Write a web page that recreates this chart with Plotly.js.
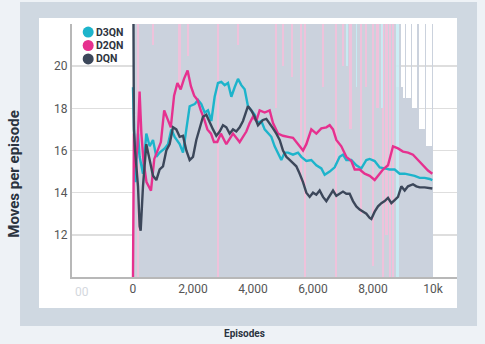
<!DOCTYPE html>
<html>
<head>
<meta charset="utf-8">
<script src="https://cdn.plot.ly/plotly-3.0.1.min.js"></script>
<style>
  html, body { margin: 0; padding: 0; background: #eef2f6; }
  #chart { width: 485px; height: 344px; }
</style>
</head>
<body>
<div id="chart"></div>
<script>
// smoothed moves per episode
const d3qnEp = [0,40,80,167,222,333,444,556,667,778,889,1056,1167,1278,1389,1556,1667,1778,1889,2056,2167,2278,2389,2500,2611,2722,2833,2944,3056,3167,3278,3389,3500,3611,3722,3833,3944,4056,4167,4278,4389,4500,4611,4722,4833,4944,5056,5167,5333,5500,5611,5778,5944,6111,6278,6389,6556,6722,6889,7000,7111,7278,7444,7611,7778,7889,8056,8222,8389,8556,8722,8889,9056,9222,9389,9556,9722,9889,9978]
const d3qnMoves = [19.0,16.0,14.5,16.8,15.7,14.9,16.8,16.2,16.5,15.7,15.9,16.1,16.3,17.0,16.65,16.3,15.9,17.0,18.1,18.2,18.4,18.2,17.8,17.9,17.4,18.55,19.2,19.25,19.1,19.2,18.55,19.0,19.4,19.1,18.9,18.1,17.9,17.7,17.3,17.4,17.0,16.8,16.65,16.2,15.9,15.55,15.9,15.9,15.8,15.9,15.7,15.5,15.55,15.3,15.15,14.85,15.0,15.2,15.7,15.8,15.55,15.55,15.3,15.15,15.55,15.6,15.5,15.2,15.15,15.1,15.1,14.9,14.9,14.85,14.8,14.7,14.7,14.65,14.6]

const d2qnEp = [0,30,80,150,220,280,350,450,600,710,930,1040,1150,1260,1370,1480,1590,1700,1820,1930,2040,2150,2260,2370,2480,2600,2700,2810,2930,3111,3333,3555,3778,3889,4000,4111,4222,4389,4556,4667,4833,5000,5167,5333,5556,5667,5778,5944,6111,6278,6444,6556,6667,6778,6944,7111,7278,7389,7556,7722,7889,8056,8222,8333,8500,8667,8833,9000,9167,9333,9500,9667,9833,9978]
const d2qnMoves = [10.0,16.8,15.2,16.2,18.8,16.8,15.5,14.5,14.1,15.6,16.4,17.9,17.5,17.1,18.6,19.2,18.9,19.4,19.8,19.05,18.6,18.4,17.9,17.5,17.0,16.8,16.4,16.4,16.8,16.3,16.8,16.4,16.9,17.3,17.6,17.4,17.9,17.8,17.9,17.3,16.8,16.7,16.65,16.6,16.2,16.0,16.3,17.0,16.8,17.05,17.1,17.2,17.0,16.5,16.2,15.7,15.5,15.1,15.1,14.9,14.8,14.6,14.9,15.1,15.3,16.2,16.1,15.95,15.9,15.8,15.55,15.3,15.05,14.9]

const dqnEp = [0,30,70,167,222,256,333,444,556,667,778,889,1000,1111,1222,1333,1444,1556,1667,1778,1889,2000,2111,2222,2333,2444,2556,2667,2778,2889,3000,3111,3222,3333,3444,3556,3667,3778,3833,3944,4056,4167,4333,4444,4556,4667,4778,4889,5000,5111,5222,5333,5444,5556,5667,5778,5889,6000,6111,6222,6333,6444,6556,6667,6778,6889,7000,7111,7222,7333,7444,7556,7667,7778,7889,7944,8056,8167,8278,8389,8500,8611,8722,8833,8944,9056,9167,9333,9444,9556,9722,9889,9978]
const dqnMoves = [28.0,17.0,16.0,14.3,12.4,12.2,14.3,16.3,15.55,14.8,14.6,15.1,15.25,16.0,16.3,17.1,17.0,16.65,16.7,16.0,15.55,15.7,16.5,17.1,17.6,17.7,17.3,17.0,16.7,16.9,17.2,17.1,16.8,17.0,16.9,17.1,17.4,17.9,18.1,17.9,17.6,17.2,17.45,17.5,17.3,17.05,16.8,16.5,16.0,15.7,15.55,15.4,15.25,14.9,14.5,14.0,13.8,14.0,13.9,14.1,13.8,13.6,13.85,14.1,13.85,13.95,14.05,13.95,13.95,13.6,13.35,13.2,13.1,13.0,12.8,12.75,13.1,13.35,13.5,13.6,13.75,13.5,13.65,13.8,14.3,14.1,14.3,14.4,14.3,14.25,14.25,14.2,14.2]

// raw (unsmoothed) episodes, shown as a faint band behind the lines
const rawBinEp = [125,375,625,875,1125,1375,1625,1875,2125,2375,2625,2875,3125,3375,3625,3875,4125,4375,4625,4875,5125,5375,5625,5875,6125,6375,6625,6875,7125,7375,7625,7875,8125,8375,8625,8875,9125,9375,9625,9875]
const rawBinMoves = [30,30,30,30,30,30,30,30,30,30,30,30,30,30,30,30,30,30,30,30,30,30,30,30,30,30,30,30,30,30,30,30,30,30,30,19,18.5,18,17,16.2]
const rawPeakEp = [8900,9070,9270,9500,9750,9970]
const rawPeakMoves = [30,30,30,30,30,30]

const d2qnRawEp = [170,670,1550,1830,2830,3500,4780,5000,5300,5610,5720,6330,6780,7000,7250,7610,7780,8000,8150,8330,8450,8560,8670]
const d2qnRawLow = [10,21,19,20.5,10,21,18,20,19.5,14.5,10,19,10,20,17,13,19,10.5,18,10,12,10,10]
const d3qnRawEp = [7120,7450,8300,8790,8850]
const d3qnRawLow = [20,19,18,10,10]

const rawTop = 30
const episodeTicks = [0,2000,4000,6000,8000,10000]
const episodeLabels = ["0","2,000","4,000","6,000","8,000","10k"]
const moveTicks = [12,14,16,18,20]

const seriesNames = ["D3QN","D2QN","DQN"]
const seriesColors = ["#1db4cb","#e6318f","#3c475a"]

function rawSpikes(xs, lows, color, width) {
    return {
        type: "bar",
        x: xs,
        base: lows,
        y: lows.map(v => rawTop - v),
        width: width,
        marker: { color: color, line: { width: 0 } },
        hoverinfo: "skip"
    }
}

function smoothLine(xs, ys, i) {
    return {
        x: xs,
        y: ys,
        name: seriesNames[i],
        mode: "lines",
        line: { color: seriesColors[i], width: 2.4 }
    }
}

const traces = [
    {
        type: "bar",
        x: rawBinEp,
        y: rawBinMoves,
        width: 250,
        marker: { color: "#cbd2dd", line: { width: 0 } },
        hoverinfo: "skip"
    },
    {
        type: "bar",
        x: rawPeakEp,
        y: rawPeakMoves,
        width: 40,
        marker: { color: "#cbd2dd", line: { width: 0 } },
        hoverinfo: "skip"
    },
    rawSpikes(d2qnRawEp, d2qnRawLow, "rgba(246,192,218,0.85)", 70),
    rawSpikes(d3qnRawEp, d3qnRawLow, "rgba(200,236,244,0.9)", 60),
    smoothLine(d3qnEp, d3qnMoves, 0),
    smoothLine(d2qnEp, d2qnMoves, 1),
    smoothLine(dqnEp, dqnMoves, 2)
]

// hand-made legend: a dot shape and a bold label per series
const legendRowY = [0.968, 0.915, 0.862]
const legendDots = seriesNames.map((name, i) => ({
    type: "circle", xref: "paper", yref: "paper",
    xsizemode: "pixel", ysizemode: "pixel",
    xanchor: 0.042, yanchor: legendRowY[i],
    x0: -5.5, x1: 5.5, y0: -5.5, y1: 5.5,
    fillcolor: seriesColors[i], line: { width: 0 }
}))
const legendLabels = seriesNames.map((name, i) => ({
    text: "<b>" + name + "</b>",
    xref: "paper", yref: "paper",
    x: 0.058, y: legendRowY[i],
    xanchor: "left", yanchor: "middle",
    showarrow: false,
    font: { size: 10.5, color: "#2e3440" }
}))

const layout = {
    width: 485,
    height: 344,
    margin: { l: 72, r: 28, t: 24, b: 67 },
    paper_bgcolor: "#eef2f6",
    plot_bgcolor: "rgba(0,0,0,0)",
    font: { family: "Roboto, sans-serif", color: "#555" },
    showlegend: false,
    barmode: "overlay",
    bargap: 0,
    xaxis: {
        range: [-2033, 10800],
        tickvals: episodeTicks,
        ticktext: episodeLabels,
        showgrid: false,
        zeroline: false,
        showline: true,
        linecolor: "#b8b8b8",
        linewidth: 2,
        tickfont: { size: 12, color: "#555" }
    },
    yaxis: {
        range: [10, 22],
        tickvals: moveTicks,
        showgrid: true,
        gridcolor: "#dedede",
        gridwidth: 1.5,
        zeroline: false,
        showline: true,
        linecolor: "#b8b8b8",
        linewidth: 2,
        tickfont: { size: 12, color: "#555" }
    },
    shapes: [
        { type: "rect", xref: "paper", yref: "paper", x0: -0.135, x1: 1.052, y0: -0.194, y1: 1.087,
          fillcolor: "#cfd8e1", line: { width: 0 }, layer: "below" },
        { type: "rect", xref: "paper", yref: "paper", x0: -0.0857, x1: 1.0, y0: -0.1225, y1: 1.0237,
          fillcolor: "#ffffff", line: { width: 0 }, layer: "below" }
    ].concat(legendDots),
    annotations: legendLabels.concat([
        { text: "Moves per episode", xref: "paper", yref: "paper", x: -0.178, y: 0.41,
          textangle: -90, showarrow: false, font: { size: 15, color: "#2b3440", weight: "bold" } },
        { text: "Episodes", xref: "paper", yref: "paper", x: 0.447, y: -0.225, yanchor: "middle",
          showarrow: false, font: { size: 10, color: "#2b3440", weight: "bold" } },
        { text: "00", xref: "x", yref: "paper", x: -1700, y: -0.022, yanchor: "top",
          showarrow: false, font: { size: 12, color: "#d4d8de" } }
    ])
}

Plotly.newPlot("chart", traces, layout, { displayModeBar: false, staticPlot: true })
</script>
</body>
</html>
